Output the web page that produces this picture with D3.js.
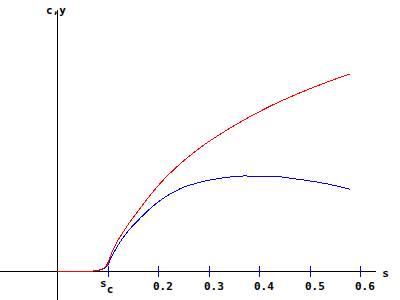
<!DOCTYPE html>
<html>
<head>
<meta charset="utf-8">
<script src="https://cdn.jsdelivr.net/npm/d3@7"></script>
<style>
    body { margin: 0; background: #fff; }
    text { font-family: "DejaVu Sans Mono", monospace; font-weight: bold; font-size: 11px; }
</style>
</head>
<body>
<div id="chart"></div>
<script>
// red curve (c)
var sRed  = [0, 0.0713, 0.0917, 0.0984, 0.1115, 0.1347, 0.1644, 0.2040, 0.2436, 0.2832, 0.3491, 0.4152, 0.4778, 0.5406, 0.5802];
var cRed  = [0, 0, 0.010, 0.023, 0.084, 0.160, 0.240, 0.335, 0.410, 0.472, 0.555, 0.625, 0.680, 0.728, 0.755];

// blue curve (y)
var sBlue = [0, 0.0713, 0.0917, 0.0984, 0.1115, 0.1347, 0.1644, 0.2040, 0.2436, 0.2832, 0.3228, 0.3683, 0.4277, 0.4673, 0.5010, 0.5341, 0.5802];
var yBlue = [0, 0, 0.008, 0.017, 0.068, 0.138, 0.202, 0.270, 0.315, 0.340, 0.355, 0.364, 0.363, 0.354, 0.345, 0.334, 0.313];

var tickValues = [0.1, 0.2, 0.3, 0.4, 0.5, 0.6];
var tickLabels = ["s", "0.2", "0.3", "0.4", "0.5", "0.6"];

var outerWidth = 400;
var outerHeight = 300;

var sMin = -0.113, sMax = 0.632;
var yMin = -0.11, yMax = 1;

var x = d3.scaleLinear().domain([0, 0.6]).range([57, 360]);
var y = d3.scaleLinear().domain([0, 1]).range([271, 10]);

var svg = d3.select("#chart").append("svg")
    .attr("width", outerWidth)
    .attr("height", outerHeight);

// axes
svg.append("line")
    .attr("x1", x(sMin)).attr("x2", x(sMax))
    .attr("y1", y(0) + 0.5).attr("y2", y(0) + 0.5)
    .attr("stroke", "#000").attr("shape-rendering", "crispEdges");
svg.append("line")
    .attr("x1", x(0) + 0.5).attr("x2", x(0) + 0.5)
    .attr("y1", y(yMax)).attr("y2", y(yMin))
    .attr("stroke", "#000").attr("shape-rendering", "crispEdges");

// ticks
svg.selectAll(".tick").data(tickValues).enter().append("line")
    .attr("class", "tick")
    .attr("x1", function(d){ return Math.round(x(d)) + 0.5 })
    .attr("x2", function(d){ return Math.round(x(d)) + 0.5 })
    .attr("y1", y(0) - 5).attr("y2", y(0) + 6)
    .attr("stroke", "#00f").attr("shape-rendering", "crispEdges");

svg.selectAll(".tlabel").data(tickValues).enter().append("text")
    .attr("class", "tlabel")
    .attr("x", function(d, i){ return i == 0 ? Math.round(x(d)) - 8 : Math.round(x(d)) - 5 })
    .attr("y", function(d, i){ return i == 0 ? y(0) + 16 : y(0) + 19 })
    .text(function(d, i){ return tickLabels[i] })
    .filter(function(d, i){ return i == 0 })
    .append("tspan")
    .attr("dy", 6)
    .text("c");

svg.append("text").attr("x", x(sMax) + 6).attr("y", y(0) + 6).text("s");
svg.append("text").attr("x", x(0) - 11).attr("y", y(yMax) + 4).text("c,y");

// curves
var line = d3.line()
    .x(function(d){ return x(d[0]) })
    .y(function(d){ return y(d[1]) })
    .curve(d3.curveMonotoneX);

svg.append("path")
    .datum(sBlue.map(function(s, i){ return [s, yBlue[i]] }))
    .attr("d", line)
    .attr("fill", "none").attr("stroke", "#00f")
    .attr("shape-rendering", "crispEdges");

svg.append("path")
    .datum(sRed.map(function(s, i){ return [s, cRed[i]] }))
    .attr("d", line)
    .attr("fill", "none").attr("stroke", "#f00")
    .attr("shape-rendering", "crispEdges");
</script>
</body>
</html>
